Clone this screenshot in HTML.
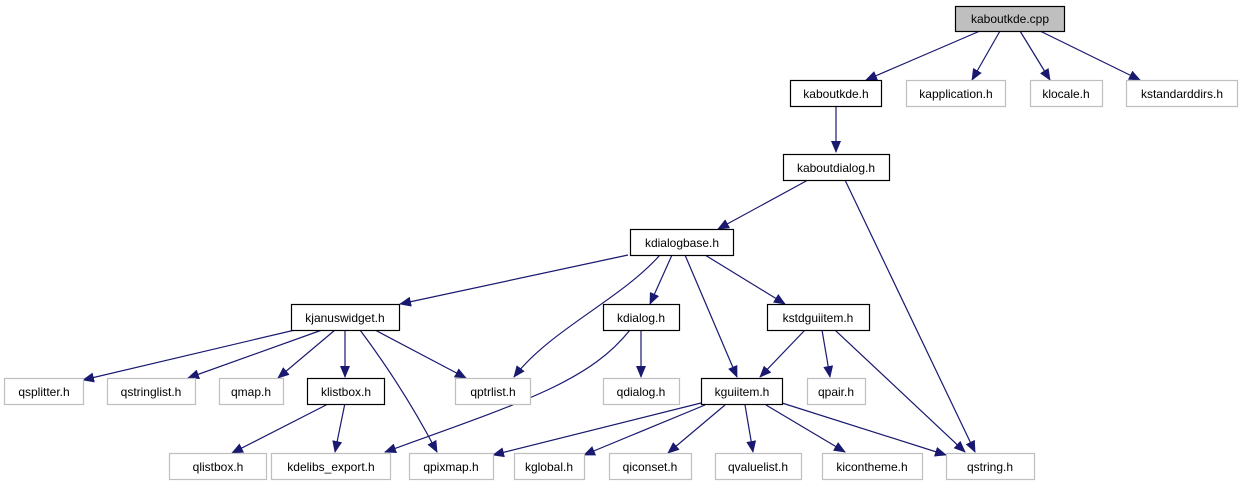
<!DOCTYPE html>
<html><head><meta charset="utf-8"><style>
html,body{margin:0;padding:0;background:#fff;}
svg{display:block;}
text{font-family:"Liberation Sans",Arial,sans-serif;font-size:12px;fill:#000;}
</style></head><body>
<svg width="1241" height="485" viewBox="0 0 1241 485" xmlns="http://www.w3.org/2000/svg">
<defs>
<marker id="a" markerWidth="12" markerHeight="10" refX="11" refY="5" orient="auto" markerUnits="userSpaceOnUse">
<path d="M0,0 L12,5 L0,10 z" fill="#191970"/>
</marker>
</defs>
<g stroke="#191970" stroke-width="1.2" fill="none" marker-end="url(#a)">
<line x1="980" y1="31" x2="866" y2="80"/>
<line x1="1000" y1="31" x2="972" y2="80"/>
<line x1="1020" y1="31" x2="1050" y2="80"/>
<line x1="1040" y1="31" x2="1140" y2="80"/>
<line x1="836" y1="106" x2="836" y2="152"/>
<line x1="808" y1="180" x2="718" y2="229"/>
<line x1="845" y1="180" x2="975" y2="452"/>
<line x1="628" y1="255" x2="400" y2="304"/>
<path d="M660,255 C620,300 550,330 514,377"/>
<line x1="672" y1="255" x2="650" y2="304"/>
<line x1="685" y1="255" x2="737" y2="377"/>
<line x1="705" y1="255" x2="785" y2="304"/>
<line x1="295" y1="330" x2="83" y2="380"/>
<line x1="322" y1="330" x2="188" y2="378"/>
<line x1="335" y1="330" x2="278" y2="378"/>
<line x1="345" y1="330" x2="345" y2="377"/>
<path d="M360,330 C390,370 415,410 437,452"/>
<line x1="375" y1="330" x2="466" y2="378"/>
<path d="M630,330 C590,380 530,400 385,452"/>
<line x1="641" y1="330" x2="641" y2="377"/>
<line x1="805" y1="330" x2="760" y2="377"/>
<line x1="822" y1="330" x2="830" y2="377"/>
<line x1="835" y1="330" x2="965" y2="452"/>
<line x1="330" y1="403" x2="232" y2="453"/>
<line x1="345" y1="403" x2="335" y2="452"/>
<line x1="701" y1="403" x2="493" y2="455"/>
<line x1="705" y1="405" x2="584" y2="455"/>
<line x1="725" y1="405" x2="668" y2="453"/>
<line x1="745" y1="405" x2="753" y2="452"/>
<line x1="766" y1="405" x2="845" y2="452"/>
<line x1="782" y1="403" x2="946" y2="455"/>
</g>
<g stroke-width="1.2">
<rect x="955.5" y="6.5" width="109" height="25" fill="#bfbfbf" stroke="#000"/>
<rect x="790.5" y="80.5" width="91" height="26" fill="#fff" stroke="#000"/>
<rect x="906.5" y="80.5" width="99" height="26" fill="#fff" stroke="#bfbfbf"/>
<rect x="1030.5" y="80.5" width="72" height="26" fill="#fff" stroke="#bfbfbf"/>
<rect x="1126.5" y="80.5" width="111" height="26" fill="#fff" stroke="#bfbfbf"/>
<rect x="783.5" y="154.5" width="106" height="26" fill="#fff" stroke="#000"/>
<rect x="630.5" y="229.5" width="103" height="26" fill="#fff" stroke="#000"/>
<rect x="291.5" y="304.5" width="108" height="26" fill="#fff" stroke="#000"/>
<rect x="603.5" y="304.5" width="76" height="26" fill="#fff" stroke="#000"/>
<rect x="767.5" y="304.5" width="102" height="26" fill="#fff" stroke="#000"/>
<rect x="4.5" y="378.5" width="79" height="26" fill="#fff" stroke="#bfbfbf"/>
<rect x="107.5" y="378.5" width="88" height="26" fill="#fff" stroke="#bfbfbf"/>
<rect x="219.5" y="378.5" width="64" height="26" fill="#fff" stroke="#bfbfbf"/>
<rect x="307.5" y="378.5" width="77" height="26" fill="#fff" stroke="#000"/>
<rect x="455.5" y="378.5" width="75" height="26" fill="#fff" stroke="#bfbfbf"/>
<rect x="603.5" y="378.5" width="76" height="26" fill="#fff" stroke="#bfbfbf"/>
<rect x="701.5" y="378.5" width="81" height="26" fill="#fff" stroke="#000"/>
<rect x="807.5" y="378.5" width="58" height="26" fill="#fff" stroke="#bfbfbf"/>
<rect x="169.5" y="453.5" width="97" height="26" fill="#fff" stroke="#bfbfbf"/>
<rect x="271.5" y="453.5" width="119" height="26" fill="#fff" stroke="#bfbfbf"/>
<rect x="409.5" y="453.5" width="84" height="26" fill="#fff" stroke="#bfbfbf"/>
<rect x="514.5" y="453.5" width="70" height="26" fill="#fff" stroke="#bfbfbf"/>
<rect x="609.5" y="453.5" width="82" height="26" fill="#fff" stroke="#bfbfbf"/>
<rect x="715.5" y="453.5" width="86" height="26" fill="#fff" stroke="#bfbfbf"/>
<rect x="822.5" y="453.5" width="100" height="26" fill="#fff" stroke="#bfbfbf"/>
<rect x="946.5" y="453.5" width="88" height="26" fill="#fff" stroke="#bfbfbf"/>
</g>
<g text-anchor="middle">
<text x="1010" y="23">kaboutkde.cpp</text>
<text x="836" y="98">kaboutkde.h</text>
<text x="956" y="98">kapplication.h</text>
<text x="1066" y="98">klocale.h</text>
<text x="1182" y="98">kstandarddirs.h</text>
<text x="836" y="172">kaboutdialog.h</text>
<text x="682" y="247">kdialogbase.h</text>
<text x="345" y="322">kjanuswidget.h</text>
<text x="641" y="322">kdialog.h</text>
<text x="818" y="322">kstdguiitem.h</text>
<text x="44" y="396">qsplitter.h</text>
<text x="151" y="396">qstringlist.h</text>
<text x="251" y="396">qmap.h</text>
<text x="346" y="396">klistbox.h</text>
<text x="493" y="396">qptrlist.h</text>
<text x="641" y="396">qdialog.h</text>
<text x="742" y="396">kguiitem.h</text>
<text x="836" y="396">qpair.h</text>
<text x="218" y="471">qlistbox.h</text>
<text x="331" y="471">kdelibs_export.h</text>
<text x="451" y="471">qpixmap.h</text>
<text x="549" y="471">kglobal.h</text>
<text x="650" y="471">qiconset.h</text>
<text x="758" y="471">qvaluelist.h</text>
<text x="872" y="471">kicontheme.h</text>
<text x="990" y="471">qstring.h</text>
</g>
</svg>
</body></html>
